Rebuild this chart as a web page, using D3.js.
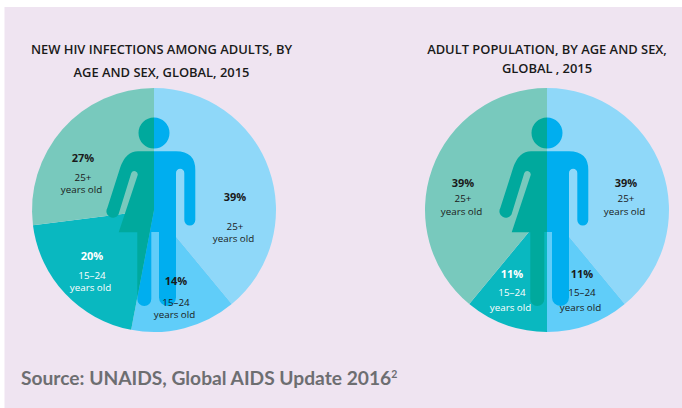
<!DOCTYPE html>
<html>
<head>
<meta charset="utf-8">
<script src="https://cdn.jsdelivr.net/npm/d3@7"></script>
<style>
  html, body { margin: 0; padding: 0; background: #fff; }
  text { font-family: "Open Sans", Lato, sans-serif; }
</style>
</head>
<body>
<div id="chart"></div>
<script>
'use strict';

// Slices run clockwise from 12 o'clock
var sexes = ['male', 'male', 'female', 'female'];
var ageGroups = ['25+', '15–24', '15–24', '25+'];
var infectionValues = [39, 14, 20, 27];
var populationValues = [39, 11, 11, 39];
var infectionTitle = ['NEW HIV INFECTIONS AMONG ADULTS, BY', 'AGE AND SEX, GLOBAL, 2015'];
var populationTitle = ['ADULT POPULATION, BY AGE AND SEX,', 'GLOBAL , 2015'];

var width = 682, height = 408;
var radius = 122;
var sliceColors = ['#8fd8f9', '#60cdf9', '#09b8c0', '#78c9bd'];
var labelColors = ['#1a1a1a', '#1a1a1a', '#ffffff', '#1a1a1a'];
var figureColors = { male: '#00aeef', female: '#00a99d' };

// label anchor offsets from the pie centre: [x, percent y, age y, "years old" y]
var infectionLabels = [[81, -13, 15.7, 28.3], [22, 71, 91.7, 104.3], [-62, 46.3, 64.7, 77.3], [-71, -51.7, -33.3, -20.7]];
var populationLabels = [[79, -26.7, -12.3, 1.3], [35, 64.3, 82.3, 96.7], [-35, 64.3, 82.3, 96.7], [-84, -26.7, -12.3, 1.3]];

// Pictogram outline, split down the middle
var headPath = 'M0,-92.5A15.5,15.5 0 0 1 0,-61.5A15.5,15.5 0 0 1 0,-92.5Z';
var malePath = 'M0,-58.7L22,-58.7Q41.3,-58.7 41.3,-40L41.3,10A5.5,5.5 0 0 1 30.3,10L30.3,-37' +
  'A3.8,3.8 0 0 0 22,-37L22,87.5A8.5,8.5 0 0 1 5,87.5L5,22L0,22Z';
var femalePath = 'M0,-58.7L-16,-58.7Q-28,-58.7 -33.7,-42.7L-46.7,-2A6.2,6.2 0 0 0 -35.5,4.5L-22.7,-37' +
  'A3.4,3.4 0 0 1 -16.3,-35L-35.3,22.3L-16.7,22.3L-16.7,89A7,7 0 0 0 -2.7,89L-2.7,22L0,22Z';
var figurePath = headPath + malePath + femalePath;

var svg = d3.select('#chart').append('svg')
  .attr('width', width)
  .attr('height', height)
  .style('display', 'block');

svg.append('rect')
  .attr('x', 4.5)
  .attr('y', 7)
  .attr('width', width - 4.5)
  .attr('height', height - 7)
  .attr('fill', '#efe4f1');

var pie = d3.pie().sort(null).value(function(d) { return d; });
var arc = d3.arc().innerRadius(0).outerRadius(radius);

function drawPie(id, cx, values, labels) {
  var arcs = pie(values);
  var g = svg.append('g').attr('transform', 'translate(' + cx + ',210)');

  g.selectAll('path.slice')
    .data(arcs)
    .enter()
    .append('path')
    .attr('class', 'slice')
    .attr('d', arc)
    .attr('fill', function(d, i) { return sliceColors[i]; });

  // the figure changes colour where the slices change sex
  ['male', 'female'].forEach(function(sex) {
    var clip = g.append('clipPath').attr('id', id + '-' + sex);
    clip.selectAll('path')
      .data(arcs.filter(function(d, i) { return sexes[i] === sex; }))
      .enter()
      .append('path')
      .attr('d', arc);

    g.append('path')
      .attr('d', figurePath)
      .attr('fill', figureColors[sex])
      .attr('clip-path', 'url(#' + id + '-' + sex + ')');
  });

  var label = g.selectAll('g.label')
    .data(arcs)
    .enter()
    .append('g')
    .attr('class', 'label')
    .attr('text-anchor', 'middle')
    .attr('fill', function(d, i) { return labelColors[i]; });

  label.append('text')
    .attr('x', function(d, i) { return labels[i][0]; })
    .attr('y', function(d, i) { return labels[i][1] + 4; })
    .attr('font-size', 11)
    .attr('font-weight', 700)
    .text(function(d) { return d.value + '%'; });

  label.append('text')
    .attr('x', function(d, i) { return labels[i][0]; })
    .attr('y', function(d, i) { return labels[i][2] + 4; })
    .attr('font-size', 9.8)
    .text(function(d, i) { return ageGroups[i]; });

  label.append('text')
    .attr('x', function(d, i) { return labels[i][0] - 1.5; })
    .attr('y', function(d, i) { return labels[i][3] + 4; })
    .attr('font-size', 9.8)
    .text('years old');
}

function drawTitle(lines, cx, ys) {
  svg.selectAll(null)
    .data(lines)
    .enter()
    .append('text')
    .attr('x', cx)
    .attr('y', function(d, i) { return ys[i]; })
    .attr('text-anchor', 'middle')
    .attr('font-size', 12.9)
    .attr('font-weight', 600)
    .attr('fill', '#1a1a1a')
    .text(function(d) { return d; });
}

drawTitle(infectionTitle, 161.5, [54, 77]);
drawTitle(populationTitle, 547, [54, 73]);
drawPie('infections', 154, infectionValues, infectionLabels);
drawPie('population', 547, populationValues, populationLabels);

var source = svg.append('text')
  .attr('x', 21)
  .attr('y', 385)
  .style('font-family', 'Lato, sans-serif')
  .attr('font-size', 19.2)
  .attr('font-weight', 700)
  .attr('fill', '#6d6e71')
  .text('Source: UNAIDS, Global AIDS Update 2016');
source.append('tspan')
  .attr('dy', -7)
  .attr('font-size', 10.5)
  .text('2');
</script>
</body>
</html>
